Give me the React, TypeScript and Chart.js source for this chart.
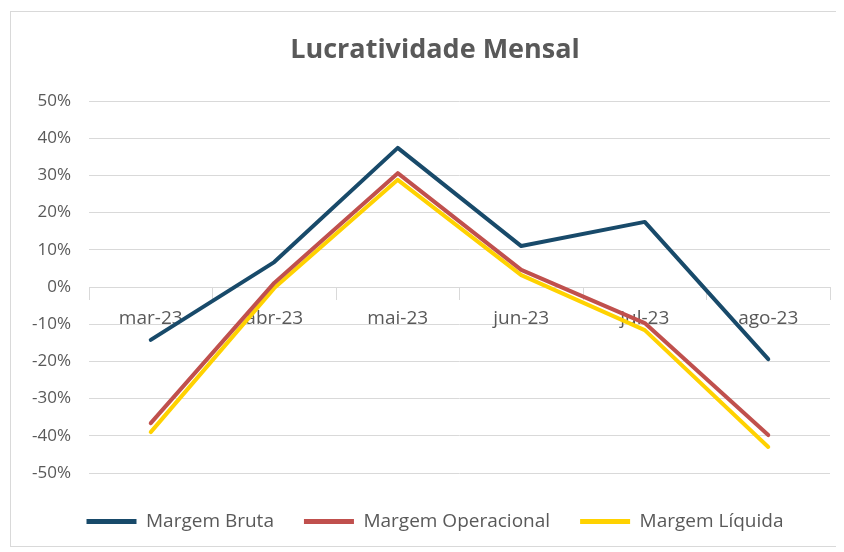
import React, { useEffect, useRef } from "react";
import { Chart, registerables } from "chart.js";

Chart.register(...registerables);

const categories = ["mar-23", "abr-23", "mai-23", "jun-23", "jul-23", "ago-23"];
const margemBruta = [-14.2, 6.7, 37.4, 11, 17.5, -19.4];
const margemOperacional = [-36.6, 1.1, 30.6, 4.6, -9.7, -39.8];
const margemLiquida = [-39, -0.3, 28.8, 3.2, -11.6, -43];
const seriesNames = ["Margem Bruta", "Margem Operacional", "Margem Líquida"];
const seriesColors = ["#184a6a", "#c0504d", "#ffd200"];
const yMin = -50;
const yMax = 50;
const yStep = 10;

const FONT = "'Open Sans', 'Noto Sans', sans-serif";
const TEXT = "#595959";
const GRID = "#d9d9d9";

export default function App() {
  const ref = useRef<HTMLCanvasElement | null>(null);

  useEffect(() => {
    if (!ref.current) return;
    const values = [margemBruta, margemOperacional, margemLiquida];
    const chart = new Chart(ref.current, {
      type: "line",
      data: {
        labels: categories,
        datasets: values.map((v, i) => ({
          label: seriesNames[i],
          data: v,
          borderColor: seriesColors[i],
          backgroundColor: seriesColors[i],
          borderWidth: 4,
          pointRadius: 0,
          tension: 0,
          borderJoinStyle: "round" as const,
          borderCapStyle: "round" as const,
        })),
      },
      options: {
        animation: false,
        responsive: false,
        maintainAspectRatio: false,
        layout: { padding: { left: 29, right: 6, top: 0, bottom: 5 } },
        plugins: {
          tooltip: { enabled: false },
          title: {
            display: true,
            text: "Lucratividade Mensal",
            color: TEXT,
            font: { family: FONT, size: 27, weight: "bold" },
            padding: { top: 22, bottom: 34.6 },
          },
          legend: {
            position: "bottom",
            labels: {
              color: TEXT,
              font: { family: FONT, size: 19 },
              boxWidth: 50,
              boxHeight: 5,
              padding: 30,
              generateLabels: (c: any) => {
                const items = Chart.defaults.plugins.legend.labels.generateLabels(c);
                return items.map((it: any) => ({ ...it, lineWidth: 0, fillStyle: seriesColors[it.datasetIndex] }));
              },
            },
          },
        },
        scales: {
          x: {
            type: "category",
            position: { y: 0 } as any,
            offset: true,
            grid: {
              drawOnChartArea: false,
              drawTicks: true,
              tickLength: 12,
              offset: true,
              color: GRID,
            },
            border: { display: true, color: GRID, width: 1 },
            ticks: {
              color: TEXT,
              font: { family: FONT, size: 19 },
              padding: 8,
              maxRotation: 0,
            },
          },
          spacer: {
            type: "category",
            position: "bottom",
            grid: { display: false },
            border: { display: false },
            ticks: { display: false },
            afterFit: (s: any) => {
              s.height = 9;
            },
          },
          y: {
            min: yMin,
            max: yMax,
            afterFit: (s: any) => {
              s.width = 49;
              s._computeLabelArea = () => undefined;
            },
            ticks: {
              stepSize: yStep,
              color: TEXT,
              font: { family: FONT, size: 17 },
              padding: 18,
              callback: (v: any) => `${v}%`,
            },
            grid: { color: GRID, drawTicks: false, lineWidth: 1 },
            border: { display: false },
          },
        },
      },
    });
    return () => chart.destroy();
  }, []);

  return (
    <div
      style={{
        marginLeft: 2,
        marginTop: 3,
        width: 826,
        height: 534,
        borderTop: "1px solid #d9d9d9",
        borderLeft: "1px solid #d9d9d9",
        borderBottom: "1px solid #d9d9d9",
        background: "#fff",
      }}
    >
      <canvas ref={ref} width={825} height={534} style={{ display: "block" }} />
    </div>
  );
}
